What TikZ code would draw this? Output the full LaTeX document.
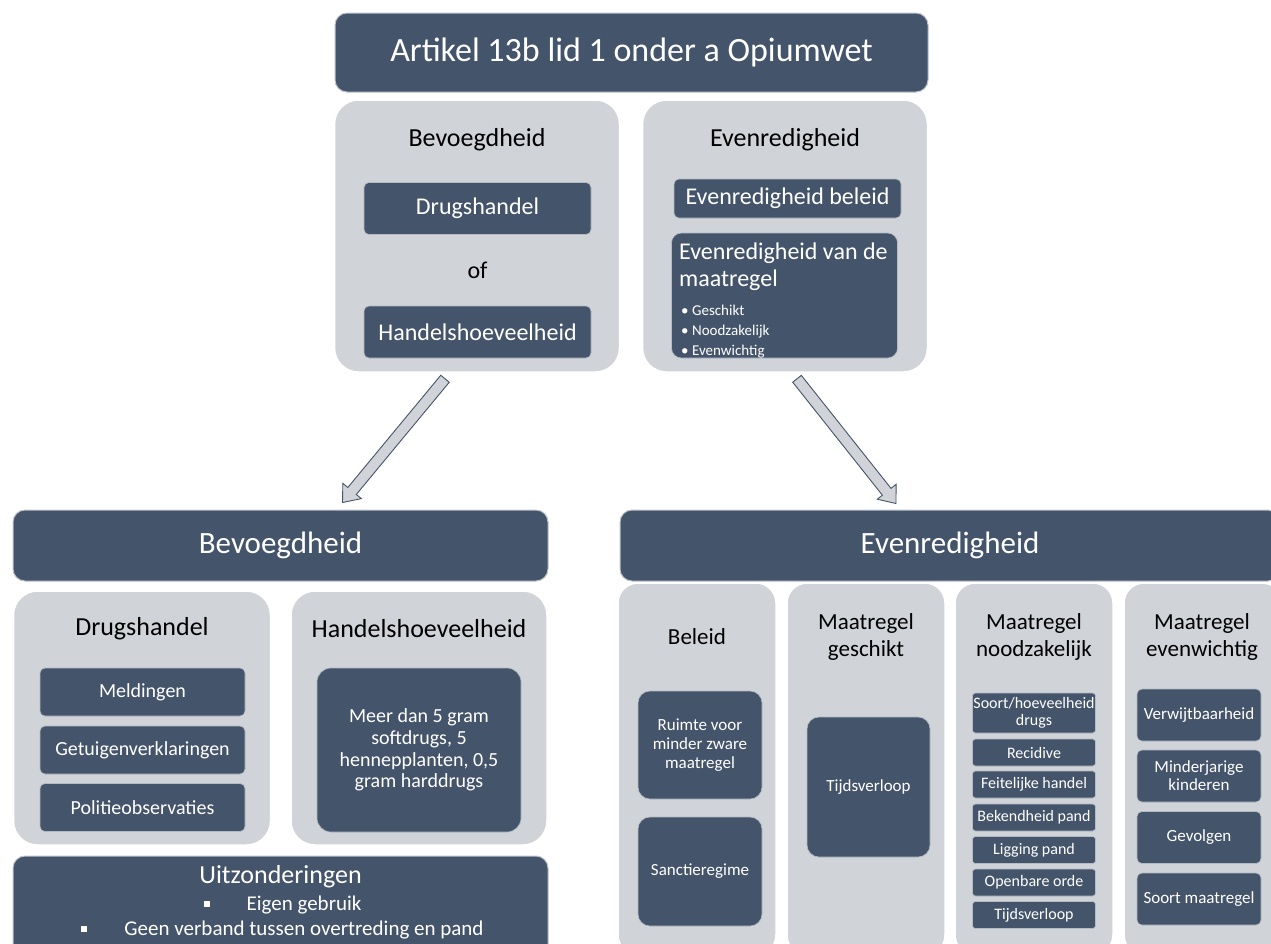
\documentclass[tikz,border=0pt]{standalone}
\usepackage{fontspec}
\setmainfont{Carlito}
\usetikzlibrary{calc}
\definecolor{slate}{RGB}{68,84,106}
\definecolor{panel}{RGB}{208,211,216}
\newcommand{\sz}[2]{\fontsize{#1}{#2}\selectfont}
\newcommand{\blockarrow}[2]{%
  \coordinate (#2-base) at ($(#2)!15pt!(#1)$);
  \filldraw[arrowbody] ($(#1)!5.5pt!90:(#2)$) -- ($(#2-base)!5.5pt!-90:(#1)$) -- ($(#2-base)!12pt!-90:(#1)$) -- (#2)
    -- ($(#2-base)!12pt!90:(#1)$) -- ($(#2-base)!5.5pt!90:(#1)$) -- ($(#1)!5.5pt!-90:(#2)$) -- cycle;}
\newcommand{\sqbullet}{\raisebox{4pt}{\rule{6pt}{6pt}}}

\begin{document}
\begin{tikzpicture}[x=1pt,y=1pt,
  bar/.style={fill=slate, draw=slate!35, line width=1pt, rounded corners=12pt, text=white, inner sep=0pt},
  panelbox/.style={fill=panel, draw=white, line width=1.5pt, rounded corners=24pt, inner sep=0pt},
  itembox/.style={fill=slate, draw=slate!40, line width=0.6pt, rounded corners=5pt, text=white, align=center, inner sep=0pt},
  heading/.style={text=black, align=center, inner sep=0pt},
  bartext/.style={text=white, align=center, inner sep=0pt},
  arrowbody/.style={fill=panel, draw=slate, line width=0.9pt}]
\useasboundingbox (0,0) rectangle (1271,-943);
\clip (0,0) rectangle (1271,-943);

\node[bar, minimum width=593pt, minimum height=79pt, font=\sz{34}{40}] (artikel) at (631.5,-52.5) {Artikel 13b lid 1 onder a Opiumwet};

% bovenste blokken
\node[panelbox, minimum width=285pt, minimum height=272pt] (bevpanel) at (477,-236) {};
\node[panelbox, minimum width=285pt, minimum height=272pt] (evenpanel) at (785,-236) {};
\node[heading, font=\sz{26}{30}] (bevhead) at (477,-140) {Bevoegdheid};
\node[heading, font=\sz{26}{30}] (evenhead) at (785,-140) {Evenredigheid};
\node[itembox, minimum width=227pt, minimum height=52pt, font=\sz{24}{28}] (drugs) at (477.5,-208.5) {Drugshandel};
\node[heading, font=\sz{24}{28}] (of) at (477.5,-270) {of};
\node[itembox, minimum width=227pt, minimum height=52pt, font=\sz{24}{28}] (handel) at (477.5,-332) {Handelshoeveelheid};
\node[itembox, minimum width=227pt, minimum height=39pt, font=\sz{24}{28}] (evenbeleid) at (787.5,-198.5) {Evenredigheid beleid};
\node[itembox, minimum width=226pt, minimum height=125pt, rounded corners=10pt] (evenmaat) at (784.5,-295.5) {};
\node[bartext, anchor=base west, align=left, font=\sz{24}{27}] (maathead) at (679,-286) {Evenredigheid van de\\maatregel};
\node[bartext, anchor=base west, align=left, font=\sz{15}{20}] (maatlist) at (681,-355) {\textbullet\ Geschikt\\\textbullet\ Noodzakelijk\\\textbullet\ Evenwichtig};

% bevoegdheid
\node[bar, minimum width=535pt, minimum height=71pt, font=\sz{31}{36}] (bevbar) at (280.5,-545.5) {Bevoegdheid};
\node[panelbox, minimum width=257pt, minimum height=254pt] (drugpanel) at (142,-718) {};
\node[panelbox, minimum width=256pt, minimum height=254pt] (handelpanel) at (419,-718) {};
\node[heading, font=\sz{26}{30}] (drughead) at (142,-629) {Drugshandel};
\node[heading, font=\sz{26}{30}] (handelhead) at (419,-629) {Handelshoeveelheid};
\node[itembox, minimum width=205pt, minimum height=48pt, font=\sz{20}{24}] (meld) at (142.5,-692) {Meldingen};
\node[itembox, minimum width=205pt, minimum height=48pt, font=\sz{20}{24}] (getuig) at (142.5,-750) {Getuigenverklaringen};
\node[itembox, minimum width=205pt, minimum height=48pt, font=\sz{20}{24}] (politie) at (142.5,-807.5) {Politieobservaties};
\node[itembox, minimum width=204pt, minimum height=164pt, rounded corners=14pt, font=\sz{20}{21.7}] (gram) at (419,-750) {Meer dan 5 gram\\softdrugs, 5\\hennepplanten, 0,5\\gram harddrugs};
\node[bar, minimum width=535pt, minimum height=110pt] (uitbar) at (280.5,-911) {};
\node[bartext, font=\sz{26}{30}] (uithead) at (280.5,-877) {Uitzonderingen};
\node[bartext, font=\sz{21}{25}] (uit1) at (282.5,-905) {\sqbullet\hspace{37pt}Eigen gebruik};
\node[bartext, font=\sz{21}{25}] (uit2) at (282.5,-930) {\sqbullet\hspace{37pt}Geen verband tussen overtreding en pand};

% evenredigheid
\node[bar, minimum width=660pt, minimum height=71pt, font=\sz{31}{36}] (evenbar) at (950,-545.5) {Evenredigheid};
\node[panelbox, minimum width=158pt, minimum height=372pt, rounded corners=20pt] (beleidcol) at (697,-769) {};
\node[panelbox, minimum width=158pt, minimum height=372pt, rounded corners=20pt] (geschiktcol) at (866,-769) {};
\node[panelbox, minimum width=158pt, minimum height=372pt, rounded corners=20pt] (noodcol) at (1034,-769) {};
\node[panelbox, minimum width=158pt, minimum height=372pt, rounded corners=20pt] (evencol) at (1203,-769) {};
\node[heading, font=\sz{23}{27}] (beleidhead) at (697,-637) {Beleid};
\node[heading, font=\sz{23}{27}] (geschikthead) at (866,-636.5) {Maatregel\\geschikt};
\node[heading, font=\sz{23}{27}] (noodhead) at (1034,-636.5) {Maatregel\\noodzakelijk};
\node[heading, font=\sz{23}{27}] (evenwhead) at (1202,-636.5) {Maatregel\\evenwichtig};

\node[itembox, minimum width=124pt, minimum height=108pt, rounded corners=12pt, font=\sz{17}{19}] (ruimte) at (700,-745) {Ruimte voor\\minder zware\\maatregel};
\node[itembox, minimum width=124pt, minimum height=109pt, rounded corners=12pt, font=\sz{17}{19}] (sanctie) at (700,-871.5) {Sanctieregime};
\node[itembox, minimum width=123pt, minimum height=140pt, rounded corners=12pt, font=\sz{17}{19}] (tijd1) at (868.5,-787) {Tijdsverloop};

\node[itembox, minimum width=123pt, minimum height=40pt, rounded corners=3pt, font=\sz{16}{17}] (soort) at (1034,-713) {Soort/hoeveelheid\\drugs};
\node[itembox, minimum width=123pt, minimum height=27pt, rounded corners=3pt, font=\sz{16}{17}] (recidive) at (1034,-752.5) {Recidive};
\node[itembox, minimum width=123pt, minimum height=27pt, rounded corners=3pt, font=\sz{16}{17}] (feitelijk) at (1034,-784.5) {Feitelijke handel};
\node[itembox, minimum width=123pt, minimum height=27pt, rounded corners=3pt, font=\sz{16}{17}] (bekend) at (1034,-817.5) {Bekendheid pand};
\node[itembox, minimum width=123pt, minimum height=27pt, rounded corners=3pt, font=\sz{16}{17}] (ligging) at (1034,-850) {Ligging pand};
\node[itembox, minimum width=123pt, minimum height=27pt, rounded corners=3pt, font=\sz{16}{17}] (openbaar) at (1034,-882.5) {Openbare orde};
\node[itembox, minimum width=123pt, minimum height=27pt, rounded corners=3pt, font=\sz{16}{17}] (tijd2) at (1034,-915) {Tijdsverloop};

\node[itembox, minimum width=124pt, minimum height=52pt, font=\sz{17}{18}] (verwijt) at (1199,-715) {Verwijtbaarheid};
\node[itembox, minimum width=124pt, minimum height=52pt, font=\sz{17}{18}] (minder) at (1199,-776) {Minderjarige\\kinderen};
\node[itembox, minimum width=124pt, minimum height=52pt, font=\sz{17}{18}] (gevolgen) at (1199,-837.5) {Gevolgen};
\node[itembox, minimum width=124pt, minimum height=52pt, font=\sz{17}{18}] (soortm) at (1199,-899) {Soort maatregel};

% pijlen
\coordinate (a1s) at ($(bevpanel.south)+(-32,-6)$);
\coordinate (a1e) at ($(bevbar.north)+(62,7)$);
\blockarrow{a1s}{a1e}
\coordinate (a2s) at ($(evenpanel.south)+(12,-6)$);
\coordinate (a2e) at ($(evenbar.north)+(-54,6)$);
\blockarrow{a2s}{a2e}
\end{tikzpicture}
\end{document}
